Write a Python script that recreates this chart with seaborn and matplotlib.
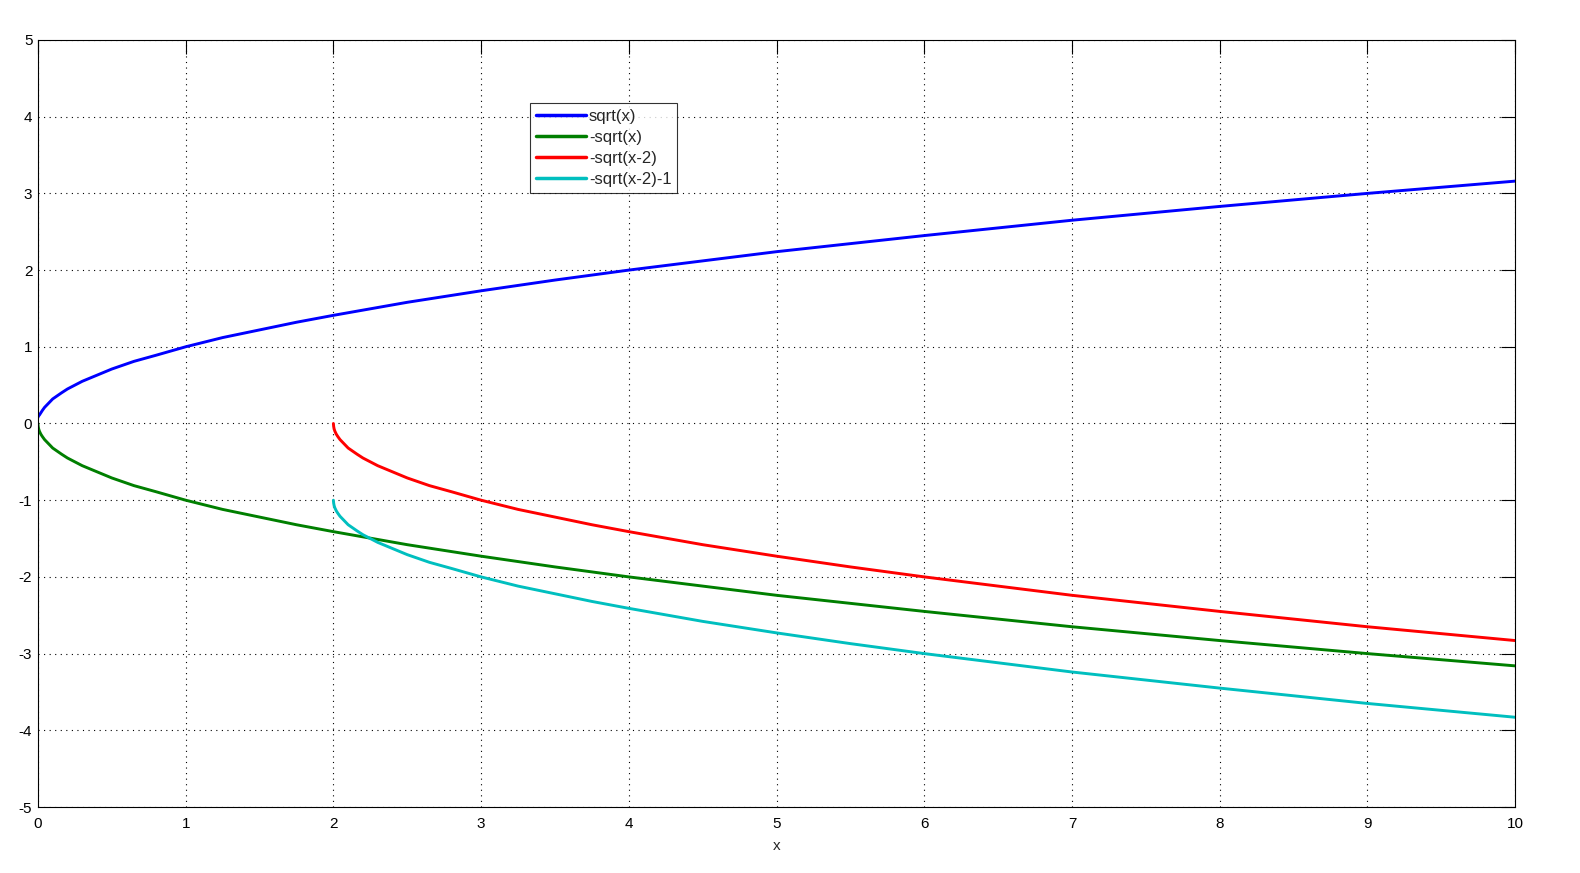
import pandas as pd
import matplotlib
matplotlib.use("Agg")
import matplotlib.pyplot as plt
import seaborn as sns

# valeurs
x_full = [0, 0.002, 0.005, 0.01, 0.02, 0.03, 0.045, 0.06, 0.08, 0.1, 0.13, 0.16, 0.2, 0.25,
          0.3, 0.4, 0.5, 0.65, 0.8, 1, 1.25, 1.5, 1.75, 2, 2.5, 3, 3.5, 4, 4.5, 5, 6, 7, 8, 9, 10]
y_sqrt = [0.08, 0.09, 0.1, 0.11, 0.14, 0.17, 0.21, 0.24, 0.28, 0.32, 0.36, 0.4, 0.45, 0.5,
          0.55, 0.63, 0.71, 0.81, 0.89, 1, 1.12, 1.22, 1.32, 1.41, 1.58, 1.73, 1.87, 2, 2.12,
          2.24, 2.45, 2.65, 2.83, 3, 3.16]
y_neg_sqrt = [0, -0.04, -0.07, -0.1, -0.14, -0.17, -0.21, -0.24, -0.28, -0.32, -0.36, -0.4, -0.45, -0.5,
              -0.55, -0.63, -0.71, -0.81, -0.89, -1, -1.12, -1.22, -1.32, -1.41, -1.58, -1.73, -1.87, -2,
              -2.12, -2.24, -2.45, -2.65, -2.83, -3, -3.16]

x_half = [2, 2.002, 2.005, 2.01, 2.02, 2.03, 2.045, 2.06, 2.08, 2.1, 2.13, 2.16, 2.2, 2.25,
          2.3, 2.4, 2.5, 2.65, 2.8, 3, 3.25, 3.5, 3.75, 4, 4.5, 5, 5.5, 6, 6.5, 7, 8, 9, 10]
y_neg_sqrt2 = [0, -0.04, -0.07, -0.1, -0.14, -0.17, -0.21, -0.24, -0.28, -0.32, -0.36, -0.4, -0.45, -0.5,
               -0.55, -0.63, -0.71, -0.81, -0.89, -1, -1.12, -1.22, -1.32, -1.41, -1.58, -1.73, -1.87, -2,
               -2.12, -2.24, -2.45, -2.65, -2.83]
y_neg_sqrt2_m1 = [-1, -1.04, -1.07, -1.1, -1.14, -1.17, -1.21, -1.24, -1.28, -1.32, -1.36, -1.4, -1.45, -1.5,
                  -1.55, -1.63, -1.71, -1.81, -1.89, -2, -2.12, -2.22, -2.32, -2.41, -2.58, -2.73, -2.87, -3,
                  -3.12, -3.24, -3.45, -3.65, -3.83]

labels = ['sqrt(x)', '-sqrt(x)', '-sqrt(x-2)', '-sqrt(x-2)-1']
colors = ['#0000ff', '#007f00', '#ff0000', '#00bfbf']

series = [(x_full, y_sqrt), (x_full, y_neg_sqrt), (x_half, y_neg_sqrt2), (x_half, y_neg_sqrt2_m1)]

sns.set_style("white")
plt.rcParams['font.family'] = ['Liberation Sans', 'DejaVu Sans']
plt.rcParams['axes.unicode_minus'] = False

fig = plt.figure(figsize=(15.8, 8.73), dpi=100)
ax = fig.add_axes([0.024, 0.0756, 0.935, 0.8786])

for (xs, ys), lab, col in zip(series, labels, colors):
    df = pd.DataFrame({'x': xs, 'y': ys})
    sns.lineplot(data=df, x='x', y='y', ax=ax, color=col, linewidth=2.1, label=lab,
                 estimator=None, sort=False)

ax.set_xlim(0, 10)
ax.set_ylim(-5, 5)
ax.set_xticks(range(0, 11))
ax.set_yticks(range(-5, 6))
ax.grid(True, color='black', linestyle=(0, (1, 4)), linewidth=0.8)
ax.tick_params(direction='in', length=10, width=0.8, labelsize=11, colors='black',
               top=True, right=True)
ax.tick_params(axis='x', pad=7)
ax.tick_params(axis='y', pad=4)
for s in ax.spines.values():
    s.set_color('black')
    s.set_linewidth(0.8)
ax.set_xlabel('x', fontsize=11, labelpad=6)
ax.set_ylabel('')

leg = ax.legend(loc='upper left', bbox_to_anchor=(0.333, 0.918), fontsize=12,
                frameon=True, fancybox=False, handlelength=3.0, handletextpad=0.2,
                borderpad=0.35, labelspacing=0.36, borderaxespad=0)
leg.get_frame().set_edgecolor('black')
leg.get_frame().set_linewidth(0.8)
for line in leg.get_lines():
    line.set_linewidth(2.5)

fig.savefig('out.png', dpi=100)
